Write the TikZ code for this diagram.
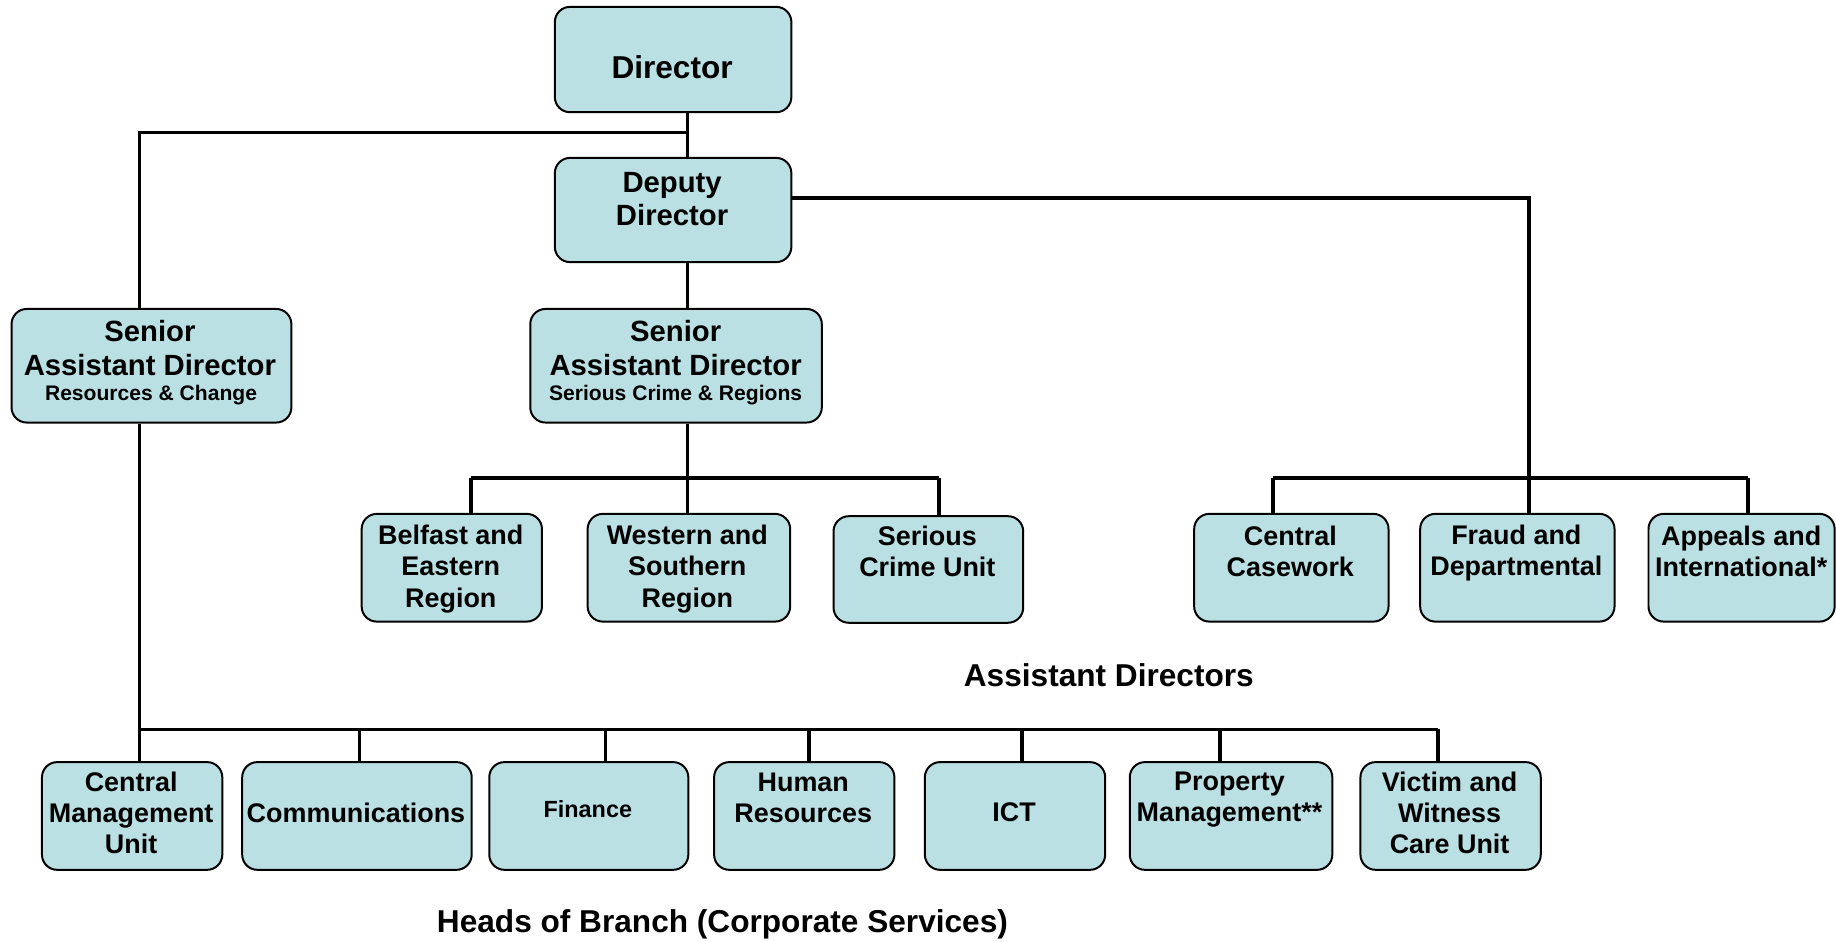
\documentclass[tikz,border=0pt]{standalone}
\usepackage{fontspec}
\setmainfont{Liberation Sans}
\definecolor{boxfill}{RGB}{187,224,227}
\tikzset{
  box/.style={draw=black, line width=1.7pt, fill=boxfill, rounded corners=13pt, anchor=north west, inner sep=0pt},
  conn/.style={line width=3.1pt, line join=miter},
  txt/.style={align=center, inner sep=0pt, font=\bfseries\fontsize{23}{26.5}\selectfont},
  txtbig/.style={align=center, inner sep=0pt, font=\bfseries\fontsize{25}{29}\selectfont},
  txtsub/.style={align=center, inner sep=0pt, font=\bfseries\fontsize{18}{22}\selectfont},
  title/.style={inner sep=0pt, font=\bfseries\fontsize{27}{31}\selectfont},
}
\newcommand{\bx}[5]{\node[box, minimum width=#4pt, minimum height=#5pt] (#1) at (#2,#3) {};}
\begin{document}
\begin{tikzpicture}[x=1pt, y=-1pt]
\useasboundingbox (0,0) rectangle (1568,804);
% junction coordinates
\coordinate (j1) at (587,113);
\coordinate (cL) at (119,113);
\coordinate (jD) at (1306,169);
\coordinate (rA) at (1087,408);
\coordinate (rB) at (1306,408);
\coordinate (rC) at (1493,408);
\coordinate (mA) at (402,408);
\coordinate (mB) at (587,408);
\coordinate (mC) at (802,408);
\coordinate (bA) at (119,623);
\coordinate (b2) at (307,623);
\coordinate (b3) at (517,623);
\coordinate (b4) at (691,623);
\coordinate (b5) at (873,623);
\coordinate (b6) at (1042,623);
\coordinate (bG) at (1228,623);

% boxes
\bx{dir}{473}{5}{202}{90}
\bx{dep}{473}{134}{202}{89}
\bx{sadr}{9}{263}{239}{97}
\bx{sads}{452}{263}{249}{97}
\bx{bel}{308}{438}{154}{92}
\bx{wes}{501}{438}{173}{92}
\bx{scu}{711}{440}{162}{91}
\bx{cc}{1019}{438}{166}{92}
\bx{fd}{1212}{438}{166}{92}
\bx{ai}{1407}{438}{159}{92}
\bx{cmu}{35}{650}{154}{92}
\bx{com}{206}{650}{196}{92}
\bx{fin}{417}{650}{170}{92}
\bx{hr}{609}{650}{154}{92}
\bx{ict}{789}{650}{154}{92}
\bx{pm}{964}{650}{173}{92}
\bx{vw}{1161}{650}{154}{92}

% connectors between named nodes
\draw[conn] (dir.south -| j1) -- (dep.north -| j1);
\draw[conn] (j1) -- (cL) -- (sadr.north -| cL);
\draw[conn] (dep.south -| j1) -- (sads.north -| j1);
\draw[conn] (dep.east |- jD) -- (jD) -- (rB);
\draw[conn] (sads.south -| mB) -- (wes.north -| mB);
\draw[conn] (mA) -- (mC);
\draw[conn] (bel.north -| mA) -- (mA);
\draw[conn] (scu.north -| mC) -- (mC);
\draw[conn] (rA) -- (rC);
\draw[conn] (cc.north -| rA) -- (rA);
\draw[conn] (fd.north -| rB) -- (rB);
\draw[conn] (ai.north -| rC) -- (rC);
\draw[conn] (sadr.south -| bA) -- (cmu.north -| bA);
\draw[conn] (bA) -- (bG);
\draw[conn] (b2) -- (com.north -| b2);
\draw[conn] (b3) -- (fin.north -| b3);
\draw[conn] (b4) -- (hr.north -| b4);
\draw[conn] (b5) -- (ict.north -| b5);
\draw[conn] (b6) -- (pm.north -| b6);
\draw[conn] (bG) -- (vw.north -| bG);

% texts
\node[title] (dir-t) at (574,57) {Director};
\node[txtbig] (dep-t) at (574,170) {Deputy\\Director};
\node[txtbig] (sadr-t) at (128,297.5) {Senior\\Assistant Director};
\node[txtsub] (sadr-s) at (129,337) {Resources \& Change};
\node[txtbig] (sads-t) at (577,297.5) {Senior\\Assistant Director};
\node[txtsub] (sads-s) at (577,337) {Serious Crime \& Regions};
\node[txt] (bel-t) at (385,486) {Belfast and\\Eastern\\Region};
\node[txt] (wes-t) at (587,486) {Western and\\Southern\\Region};
\node[txt] (scu-t) at (792,471) {Serious\\Crime Unit};
\node[txt] (cc-t) at (1102,470.5) {Central\\Casework};
\node[txt] (fd-t) at (1295,472.5) {Fraud and\\Departmental};
\node[txt] (ai-t) at (1487,470.5) {Appeals and\\International*};
\node[title] (ad-t) at (947,577) {Assistant Directors};
\node[txt] (cmu-t) at (112,694.5) {Central\\Management\\Unit};
\node[txt] (com-t) at (304,694) {Communications};
\node[txt, font=\bfseries\fontsize{20}{24}\selectfont] (fin-t) at (502,691) {Finance};
\node[txt] (hr-t) at (686,681) {Human\\Resources};
\node[txt] (ict-t) at (866,694) {ICT};
\node[txt] (pm-t) at (1050,683) {Property\\Management**};
\node[txt] (vw-t) at (1238,694.5) {Victim and\\Witness\\Care Unit};
\node[title] (hb-t) at (617,789) {Heads of Branch (Corporate Services)};
\end{tikzpicture}
\end{document}
